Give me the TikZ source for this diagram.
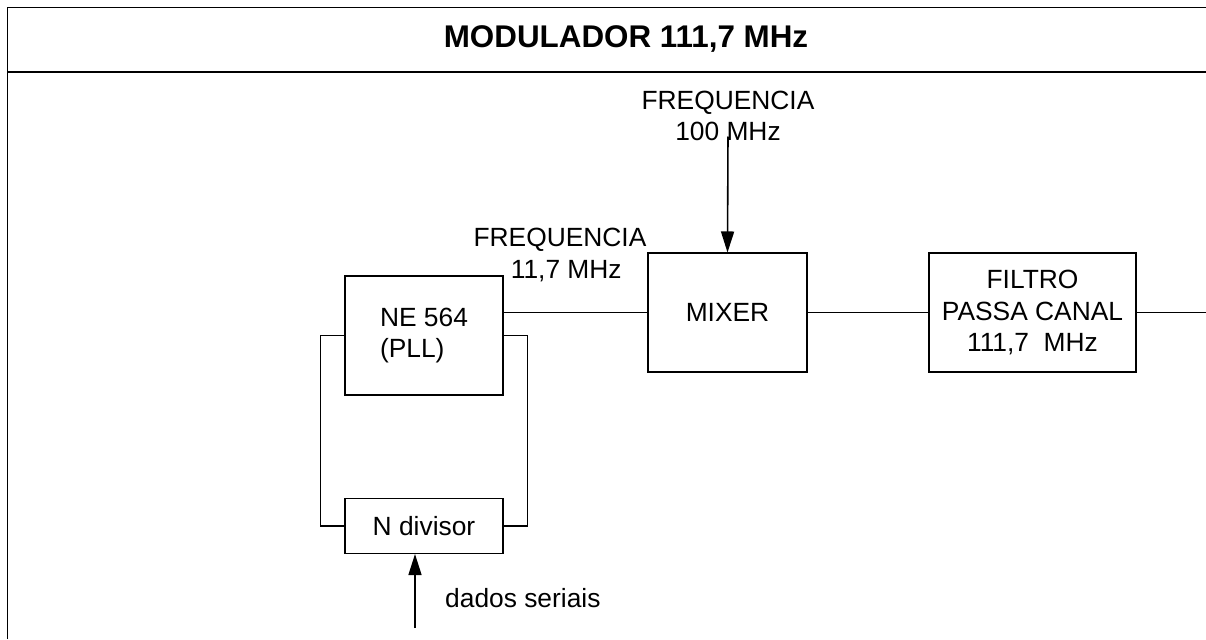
\documentclass[tikz,border=0pt]{standalone}
\usepackage{fontspec}
\setmainfont{Liberation Sans}
\usetikzlibrary{calc,arrows.meta,positioning}

\begin{document}
\begin{tikzpicture}[
  font=\fontsize{15}{18}\selectfont,
  frame/.style={line width=1.1pt},
  block/.style={draw, line width=0.6pt, minimum height=2.38cm, align=center, inner sep=2pt},
  wire/.style={line width=0.6pt},
  flow/.style={-{Triangle[length=0.42cm, width=0.26cm]}, line width=0.9pt},
]
  \useasboundingbox (0,0) rectangle (24.12,-12.78);

  % Outer frame and title band
  \draw[frame] (0.15,-12.78) |- (24.12,-0.15);
  \draw[line width=1.4pt] (0.15,-1.44) -- (24.12,-1.44);
  \node[font=\fontsize{17.85}{20}\selectfont\bfseries] (title) at (12.52,-0.77) {MODULADOR 111,7 MHz};

  % Blocks
  \node[block, minimum width=3.16cm, align=left] (pll) at (8.48,-6.71) {NE 564\\(PLL)};
  \node[block, minimum width=3.16cm, minimum height=1.1cm] (divisor) at (8.48,-10.52) {N divisor};
  \node[block, minimum width=3.18cm] (mixer) at (14.55,-6.25) {MIXER};
  \node[block, minimum width=4.14cm] (filtro) at (20.65,-6.25) {FILTRO\\PASSA CANAL\\111,7~~MHz};

  % Labels
  \node[align=center, inner sep=0pt] (freq100) at (14.56,-2.32) {FREQUENCIA\\100 MHz};
  \node[align=center, inner sep=0pt] (freq117) at (11.2,-5.1) {FREQUENCIA\\\hspace*{0.25cm}11,7 MHz};
  \node[anchor=west] (dados) at (8.78,-11.96) {dados seriais};
  \coordinate (dadosin) at (8.3,-12.56);
  \coordinate (saida) at (24.12,-6.25);

  % Loop between PLL and divider
  \draw[wire] (pll.west) -- ++(-0.48,0) |- (divisor.west);
  \draw[wire] (pll.east) -- ++(0.48,0) |- (divisor.east);

  % Signal path
  \draw[line width=0.9pt] (mixer.west) -- (mixer.west -| pll.east);
  \draw[wire] (mixer.east) -- (filtro.west);
  \draw[line width=0.9pt] (filtro.east) -- (saida);
  \draw[flow] ($(freq100.south)+(0,0.1)$) -- (mixer.north);
  \draw[flow] (dadosin) -- (dadosin |- divisor.south);
\end{tikzpicture}
\end{document}
